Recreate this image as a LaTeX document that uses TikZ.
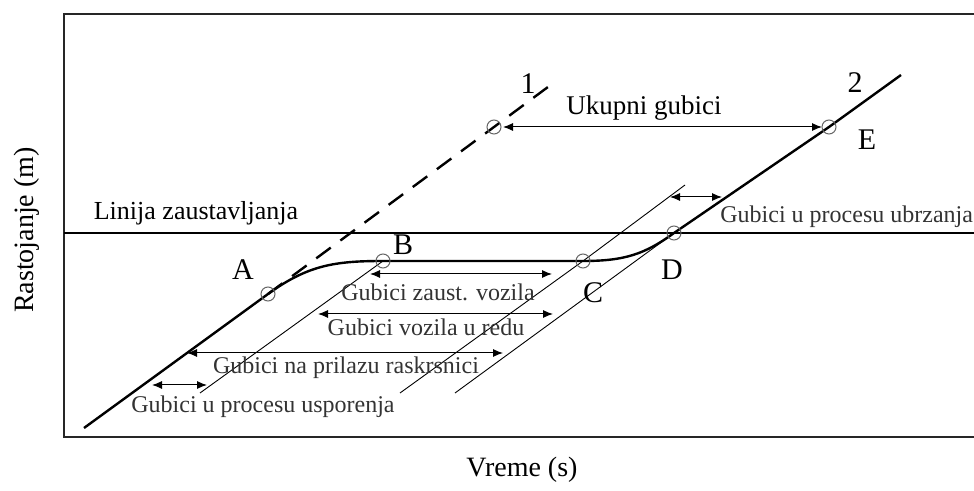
\documentclass[tikz,border=0pt]{standalone}
\usepackage{fontspec}
\setmainfont{Liberation Serif}
\usetikzlibrary{arrows.meta}

\begin{document}
\begin{tikzpicture}[x=0.5pt, y=-0.5pt,
    loss/.style={{Latex[length=5pt,width=4pt]}-{Latex[length=5pt,width=4pt]}, line width=0.5pt},
    traj/.style={line width=0.45pt},
    vehpath/.style={line width=1.2pt},
    ring/.style={draw=black!60, line width=0.5pt},
    lbl/.style={font=\fontsize{12}{14}\selectfont, text=black!80, inner sep=0pt},
    letter/.style={font=\fontsize{15}{18}\selectfont, inner sep=0pt}]
    \useasboundingbox (0,0) rectangle (974,491);
    % frame and stop line
    \draw[line width=1.1pt, black!85] (990,14) -- (64,14) -- (64,437) -- (990,437);
    \draw[line width=0.6pt] (64,233) -- (990,233);
    \node[font=\fontsize{13}{15}\selectfont, inner sep=0pt] (stop) at (196,213) {Linija zaustavljanja};
    % axis labels
    \node[font=\fontsize{14}{16}\selectfont] (xlab) at (522,470) {Vreme (s)};
    \node[font=\fontsize{14}{16}\selectfont, rotate=90] (ylab) at (27,230) {Rastojanje (m)};
    % points
    \coordinate (S) at (84,428);
    \coordinate (A) at (268,294);
    \coordinate (B) at (383,261);
    \coordinate (C) at (583,261);
    \coordinate (D) at (674,233);
    \coordinate (E) at (829,127);
    \coordinate (F) at (901,75);
    \coordinate (P1) at (494,127);
    \coordinate (P1e) at (552,84);
    % undelayed vehicle
    \draw[vehpath, dash pattern=on 9pt off 6pt] (A) -- (P1) -- (P1e);
    % delayed vehicle
    \draw[vehpath] (S) -- (A) .. controls (308,265) and (335,261) .. (B) -- (C)
        .. controls (625,261) and (645,254) .. (D) -- (E) -- (F);
    % other trajectories
    \draw[traj] (200,393) -- (B);
    \draw[traj] (400,393) -- (C) -- (685,185);
    \draw[traj] (455,393) -- (D);
    % circles
    \foreach \p in {A,B,C,D,E,P1}
        \draw[ring] (\p) circle (7);
    % letters
    \node[letter] (la) at (243,270) {A};
    \node[letter] (lb) at (403,245) {B};
    \node[letter] (lc) at (593,293) {C};
    \node[letter] (ld) at (672,270) {D};
    \node[letter] (le) at (867,140) {E};
    \node[letter] (l1) at (528,84) {1};
    \node[letter] (l2) at (855,83) {2};
    % losses
    \coordinate (u1) at (503,127);
    \coordinate (u2) at (822,127);
    \draw[loss] (u1) -- (u2);
    \node[font=\fontsize{13.5}{15}\selectfont, inner sep=0pt] (ukupni) at (644,108) {Ukupni gubici};
    \coordinate (z1) at (370,274);
    \coordinate (z2) at (552,274);
    \draw[loss] (z1) -- (z2);
    \node[lbl] (zaust) at (438,292) {Gubici zaust. vozila};
    \coordinate (r1) at (318,314);
    \coordinate (r2) at (553,314);
    \draw[loss] (r1) -- (r2);
    \node[lbl] (red) at (426,327) {Gubici vozila u redu};
    \coordinate (p1) at (187,353);
    \coordinate (p2) at (503,353);
    \draw[loss] (p1) -- (p2);
    \node[lbl] (prilaz) at (346,368) {Gubici na prilazu raskrsnici};
    \coordinate (s1) at (152,385);
    \coordinate (s2) at (207,385);
    \draw[loss] (s1) -- (s2);
    \node[lbl] (uspor) at (263,407) {Gubici u procesu usporenja};
    \coordinate (b1) at (670,197);
    \coordinate (b2) at (722,197);
    \draw[loss] (b1) -- (b2);
    \node[lbl, anchor=west] (ubrz) at (720,217) {Gubici u procesu ubrzanja};
\end{tikzpicture}
\end{document}
